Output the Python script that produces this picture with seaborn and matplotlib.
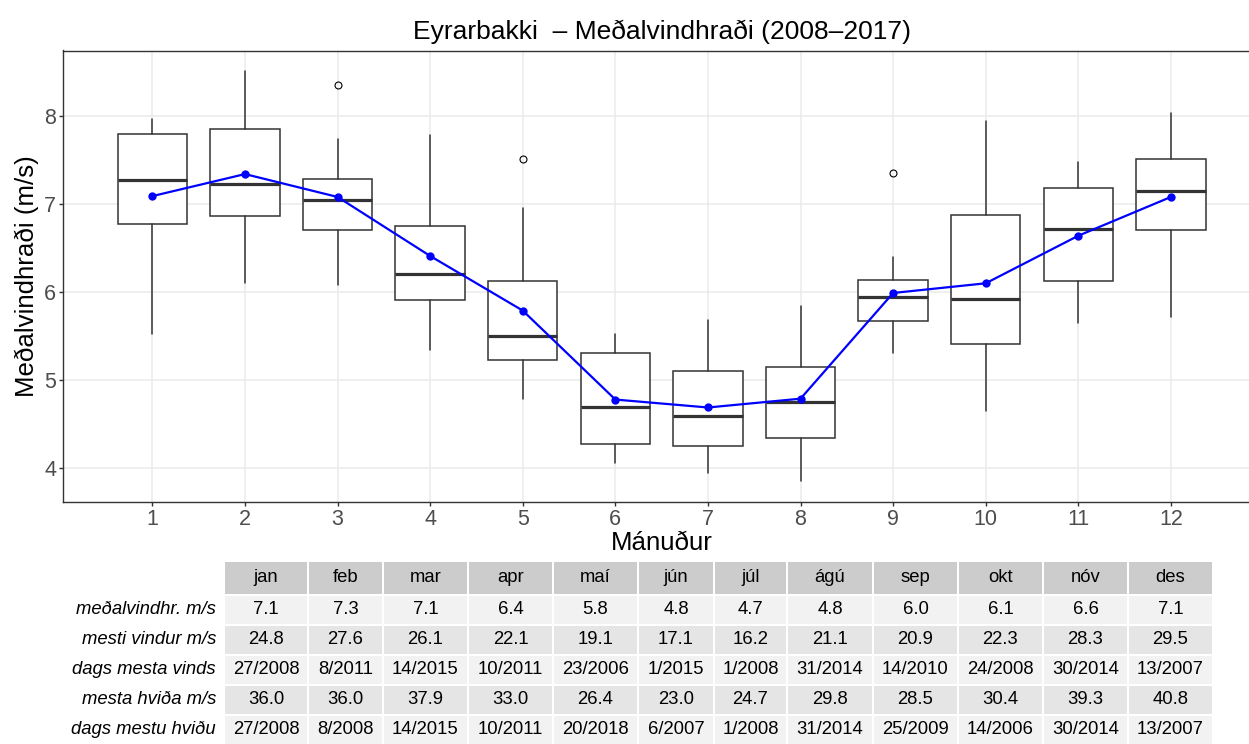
"""Eyrarbakki monthly mean wind speed: boxplots per month, mean line and summary table."""

import matplotlib

matplotlib.use("Agg")

import matplotlib.pyplot as plt
from matplotlib.patches import Rectangle
import seaborn as sns

# --- data ------------------------------------------------------------------
months = list(range(1, 13))
month_names = ["jan", "feb", "mar", "apr", "maí", "jún", "júl", "ágú", "sep", "okt", "nóv", "des"]

whisker_low = [5.53, 6.10, 6.08, 5.34, 4.79, 4.06, 3.95, 3.85, 5.31, 4.65, 5.65, 5.72]
q1 = [6.77, 6.86, 6.70, 5.91, 5.23, 4.28, 4.25, 4.34, 5.67, 5.41, 6.13, 6.71]
median = [7.27, 7.23, 7.05, 6.21, 5.50, 4.70, 4.59, 4.75, 5.94, 5.92, 6.72, 7.15]
q3 = [7.80, 7.85, 7.28, 6.75, 6.13, 5.31, 5.10, 5.15, 6.14, 6.87, 7.18, 7.51]
whisker_high = [7.96, 8.51, 7.74, 7.78, 6.95, 5.52, 5.68, 5.84, 6.40, 7.94, 7.48, 8.03]
outliers = [[], [], [8.35], [], [7.51], [], [], [], [7.35], [], [], []]
monthly_mean = [7.09, 7.34, 7.08, 6.41, 5.79, 4.78, 4.69, 4.79, 5.99, 6.10, 6.64, 7.08]

max_wind = [24.8, 27.6, 26.1, 22.1, 19.1, 17.1, 16.2, 21.1, 20.9, 22.3, 28.3, 29.5]
max_wind_date = ["27/2008", "8/2011", "14/2015", "10/2011", "23/2006", "1/2015",
                 "1/2008", "31/2014", "14/2010", "24/2008", "30/2014", "13/2007"]
max_gust = [36.0, 36.0, 37.9, 33.0, 26.4, 23.0, 24.7, 29.8, 28.5, 30.4, 39.3, 40.8]
max_gust_date = ["27/2008", "8/2008", "14/2015", "10/2011", "20/2018", "6/2007",
                 "1/2008", "31/2014", "25/2009", "14/2006", "30/2014", "13/2007"]
row_labels = ["meðalvindhr. m/s", "mesti vindur m/s", "dags mesta vinds",
              "mesta hviða m/s", "dags mestu hviðu"]

# --- style -------------------------------------------------------------------
sns.set_theme(style="white")
plt.rcParams["font.family"] = ["Liberation Sans", "DejaVu Sans"]

W, H = 1249, 744
DARK = "#333333"

fig = plt.figure(figsize=(W / 100, H / 100), dpi=100)
# panel in pixels: left 63, top 50, bottom 502; right side runs off the canvas
ax = fig.add_axes([63.3 / W, 1 - 502 / H, (1260 - 63.3) / W, (502 - 50.5) / H])

stats = [
    {"whislo": lo, "q1": a, "med": m, "q3": b, "whishi": hi, "fliers": fl}
    for lo, a, m, b, hi, fl in zip(whisker_low, q1, median, q3, whisker_high, outliers)
]
ax.bxp(
    stats,
    positions=months,
    widths=0.75,
    showcaps=False,
    patch_artist=True,
    boxprops=dict(facecolor="white", edgecolor=DARK, linewidth=1.1),
    medianprops=dict(color=DARK, linewidth=2.3, solid_capstyle="butt"),
    whiskerprops=dict(color=DARK, linewidth=1.1),
    flierprops=dict(marker="o", markerfacecolor="none", markeredgecolor="black",
                    markersize=5, markeredgewidth=0.8),
    zorder=2,
)
sns.lineplot(x=months, y=monthly_mean, ax=ax, color="blue", linewidth=1.6,
             marker="o", markersize=6, markeredgewidth=0, zorder=3)

ax.set_xlim(0.0375, 12.9625)
ax.set_ylim(3.617, 8.743)
ax.set_xticks(months)
ax.set_xticklabels([str(m) for m in months])
ax.set_yticks([4, 5, 6, 7, 8])
ax.grid(True, color="#EBEBEB", linewidth=1.1, zorder=0)
ax.set_axisbelow(True)
for spine in ax.spines.values():
    spine.set_color(DARK)
    spine.set_linewidth(1.0)
ax.tick_params(axis="both", length=3, width=1, color=DARK, labelcolor="#4D4D4D",
               labelsize=15.5, pad=2, bottom=True, left=True)

ax.set_xlabel("Mánuður", fontsize=18.6, color="black", labelpad=1)
ax.set_ylabel("Meðalvindhraði (m/s)", fontsize=18.6, color="black", labelpad=4)
fig.text(661.7 / W, 1 - 39.5 / H, "Eyrarbakki  – Meðalvindhraði (2008–2017)",
         ha="center", va="baseline", fontsize=19, color="black")

# --- summary table underneath -----------------------------------------------
tab = fig.add_axes([0, 0, 1, 1])
tab.set_xlim(0, W)
tab.set_ylim(H, 0)
tab.axis("off")

col_edges = [224, 308, 383, 468, 553, 638, 714, 787, 873, 958, 1043, 1128, 1213]
header_top, header_bottom = 562, 594
row_top0, row_pitch, gap = 596, 30, 2
table_rows = [
    [f"{v:.1f}" for v in monthly_mean],
    [f"{v:.1f}" for v in max_wind],
    max_wind_date,
    [f"{v:.1f}" for v in max_gust],
    max_gust_date,
]
row_fills = ["#F2F2F2", "#E5E5E5", "#F2F2F2", "#E5E5E5", "#F2F2F2"]
FS = 13.3

for j, name in enumerate(month_names):
    x0, x1 = col_edges[j] + gap / 2, col_edges[j + 1] - gap / 2
    tab.add_patch(Rectangle((x0, header_top), x1 - x0, header_bottom - header_top,
                            facecolor="#CCCCCC", edgecolor="none"))
    tab.text((x0 + x1) / 2, (header_top + header_bottom) / 2, name, ha="center",
             va="center", fontsize=FS, color="black")

for i, (label, values) in enumerate(zip(row_labels, table_rows)):
    y0 = row_top0 + i * row_pitch
    y1 = y0 + row_pitch - gap
    yc = (y0 + y1) / 2
    tab.text(216, yc, label, ha="right", va="center", fontsize=FS,
             style="italic", color="black")
    for j, val in enumerate(values):
        x0, x1 = col_edges[j] + gap / 2, col_edges[j + 1] - gap / 2
        tab.add_patch(Rectangle((x0, y0), x1 - x0, y1 - y0,
                                facecolor=row_fills[i], edgecolor="none"))
        tab.text((x0 + x1) / 2, yc, val, ha="center", va="center", fontsize=FS,
                 color="black")

fig.savefig("out.png", dpi=100)
plt.close(fig)
